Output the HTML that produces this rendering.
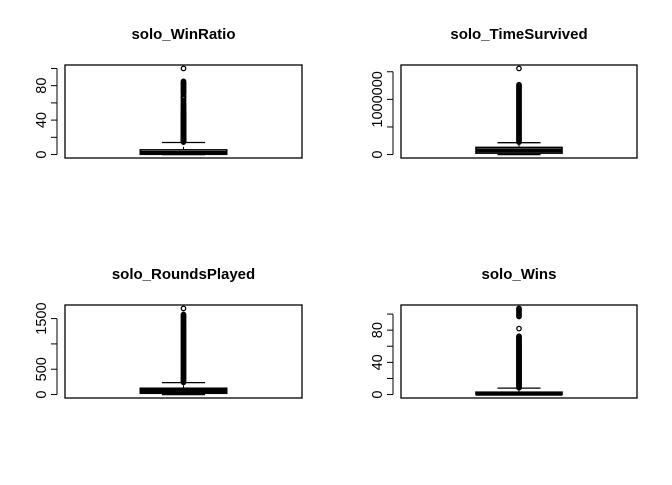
<!DOCTYPE html>
<html><head><meta charset="utf-8"><style>
body{margin:0;background:#fff}
svg text{font-family:"Liberation Sans",Arial,sans-serif}
</style></head><body>
<svg id="c" width="672" height="480" viewBox="0 0 672 480" xmlns="http://www.w3.org/2000/svg"></svg>
<script>
// Panel titles
const titles = ["solo_WinRatio","solo_TimeSurvived","solo_RoundsPlayed","solo_Wins"];
// box stats: [min, q1, median, q3, whiskerTop]
const statsWinRatio = [0, 0.3, 2, 5.5, 14];
const statsTimeSurvived = [0, 25000, 75000, 130000, 215000];
const statsRoundsPlayed = [0, 25, 70, 125, 235];
const statsWins = [0, 0, 1, 3, 8];
// y ranges and ticks
const rangeWinRatio = [0, 100], ticksWinRatio = [0,20,40,60,80,100], labelsWinRatio = ["0","","40","","80",""];
const rangeTimeSurvived = [0, 1560000], ticksTimeSurvived = [0,500000,1000000,1500000], labelsTimeSurvived = ["0","","1000000",""];
const rangeRoundsPlayed = [0, 1700], ticksRoundsPlayed = [0,500,1000,1500], labelsRoundsPlayed = ["0","500","","1500"];
const rangeWins = [0, 107], ticksWins = [0,20,40,60,80,100], labelsWins = ["0","","40","","80",""];
// outliers
const outWinRatio = [14.5,15,15.5,16,16.5,17,17.5,18,18.5,19,19.5,20,20.5,21,21.5,22,22.5,23,23.5,24,24.5,25,25.5,26,26.5,27,27.5,28,28.5,29,29.5,30,30.5,31,31.5,32,32.5,33,33.5,34,34.5,35,35.5,36,36.5,37,37.5,38,38.5,39,39.5,40,40.5,41,41.5,42,42.5,43,43.5,44,44.5,45,45.5,46,46.5,47,47.5,48,48.5,49,49.5,50,51,52,53,54,55,56,57,58,59,60,62,63,65,66,67,68,70,71,72,73,74,75,76,77,78,79,80,81,82,83,84,85,100];
const outTimeSurvived = [225000,245000,265000,285000,305000,325000,345000,365000,385000,405000,425000,445000,465000,485000,505000,525000,545000,565000,585000,605000,625000,645000,665000,685000,705000,725000,745000,765000,785000,805000,825000,845000,865000,885000,905000,925000,945000,965000,985000,1005000,1025000,1045000,1065000,1085000,1105000,1125000,1145000,1165000,1185000,1205000,1225000,1245000,1265000,1560000];
const outRoundsPlayed = [240,260,280,300,320,340,360,380,400,420,440,460,480,500,520,540,560,580,600,620,640,660,680,700,720,740,760,780,800,820,840,860,880,900,920,940,960,980,1000,1020,1040,1060,1080,1100,1120,1140,1160,1180,1200,1220,1240,1260,1280,1300,1320,1340,1360,1380,1400,1420,1440,1460,1480,1500,1520,1540,1560,1580,1700];
const outWins = [8.5,9.5,10.5,11.5,12.5,13.5,14.5,15.5,16.5,17.5,18.5,19.5,20.5,21.5,22.5,23.5,24.5,25.5,26.5,27.5,28.5,29.5,30.5,31.5,32.5,33.5,34.5,35.5,36.5,37.5,38.5,39.5,40.5,41.5,42.5,43.5,44.5,45.5,46.5,47.5,48.5,49.5,50.5,51.5,52.5,53.5,54.5,55.5,56.5,57.5,58.5,59.5,60.5,61.5,62.5,63.5,64.5,65.5,66.5,67.5,68.5,69.5,70.5,71.5,72.5,82,97,98.5,100,101.5,103,104.5,106,107];

const panels = [
 {t:titles[0], s:statsWinRatio, r:rangeWinRatio, tk:ticksWinRatio, lb:labelsWinRatio, o:outWinRatio, x0:65, x1:302, y0:65, y1:158},
 {t:titles[1], s:statsTimeSurvived, r:rangeTimeSurvived, tk:ticksTimeSurvived, lb:labelsTimeSurvived, o:outTimeSurvived, x0:401, x1:637, y0:65, y1:158},
 {t:titles[2], s:statsRoundsPlayed, r:rangeRoundsPlayed, tk:ticksRoundsPlayed, lb:labelsRoundsPlayed, o:outRoundsPlayed, x0:65, x1:302, y0:305, y1:398},
 {t:titles[3], s:statsWins, r:rangeWins, tk:ticksWins, lb:labelsWins, o:outWins, x0:401, x1:637, y0:305, y1:398}
];
const svg = document.getElementById('c');
const NS = "http://www.w3.org/2000/svg";
function mk(tag, attrs, parent){const e=document.createElementNS(NS,tag);for(const k in attrs)e.setAttribute(k,attrs[k]);(parent||svg).appendChild(e);return e;}
panels.forEach((p,i)=>{
  const g = mk('g',{});
  
  
  const span = p.r[1]-p.r[0];
  const lo = p.r[0]-span*0.04, hi = p.r[1]+span*0.04;
  const y = v => p.y1 - (v-lo)/(hi-lo)*(p.y1-p.y0);
  const cx = (p.x0+p.x1)/2;
  const bw = (p.x1-p.x0)*0.365;
  const title = mk('text',{x:cx,y:p.y0-26,'text-anchor':'middle','font-size':'15','font-weight':'bold'},g);
  title.textContent = p.t;
  
  
  const frame = mk('rect',{x:p.x0,y:p.y0,width:p.x1-p.x0,height:p.y1-p.y0,fill:'none',stroke:'#000','stroke-width':1.3},g);
  
  
  const ax = mk('line',{x1:p.x0-8,x2:p.x0-8,y1:y(p.tk[0]),y2:y(p.tk[p.tk.length-1]),stroke:'#000'},g);
  
  
  p.tk.forEach((t,j)=>{
    const tl = mk('line',{x1:p.x0-8,x2:p.x0-14,y1:y(t),y2:y(t),stroke:'#000'},g);
    
    
    if(p.lb[j]){
      const tx = mk('text',{x:0,y:0,'text-anchor':'middle','font-size':'14.5',transform:`translate(${p.x0-19},${y(t)}) rotate(-90)`},g);
      tx.textContent = p.lb[j];
      
      
    }
  });
  const s = p.s;
  const box = mk('rect',{x:cx-bw/2,y:y(s[3]),width:bw,height:Math.max(1,y(s[1])-y(s[3])),fill:'none',stroke:'#000','stroke-width':1.5},g);
  
  
  const med = mk('line',{x1:cx-bw/2,x2:cx+bw/2,y1:y(s[2]),y2:y(s[2]),stroke:'#000','stroke-width':4},g);
  
  
  const wk = mk('line',{x1:cx,x2:cx,y1:y(s[3]),y2:y(s[4]),stroke:'#000','stroke-dasharray':'3,2'},g);
  
  
  const cap = mk('line',{x1:cx-bw/4,x2:cx+bw/4,y1:y(s[4]),y2:y(s[4]),stroke:'#000','stroke-width':1.3},g);
  
  
  const capl = mk('line',{x1:cx-bw/4,x2:cx+bw/4,y1:y(s[0]),y2:y(s[0]),stroke:'#000','stroke-width':1.3},g);
  
  
  p.o.forEach(v=>{
    const c = mk('circle',{cx:cx,cy:y(v),r:2.2,fill:'none',stroke:'#000','stroke-width':1.3},g);
    
    
  });
});
</script>
</body></html>
